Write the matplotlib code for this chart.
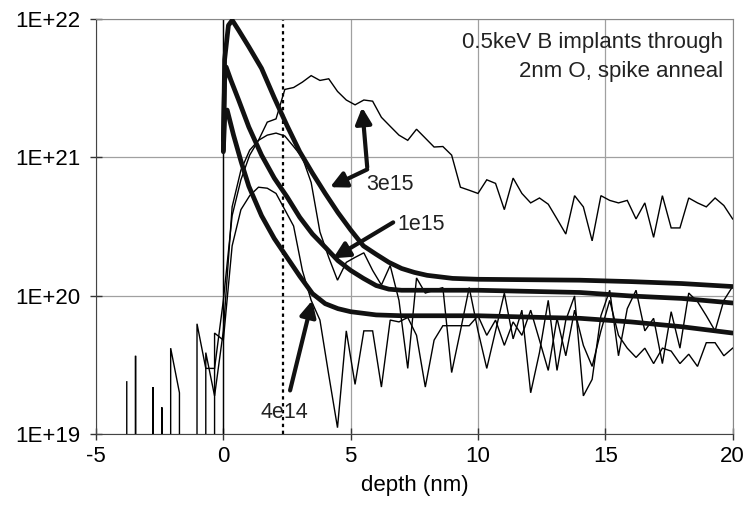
import numpy as np
import matplotlib

matplotlib.use("Agg")
import matplotlib.pyplot as plt
from matplotlib.ticker import FixedLocator, FuncFormatter, NullLocator

plt.rcParams["font.family"] = ["Liberation Sans", "DejaVu Sans"]
plt.rcParams["axes.unicode_minus"] = False

# SIMS profiles: one value per depth step, starting at index -11 (0 = below detection)
DEPTH_STEP = 20 / 58
FIRST_INDEX = -11

sims_3e15 = [
    2.4e19, 0, 0, 2.2e19, 0, 4.2e19, 2.0e19, 0, 6.3e19, 3.0e19,
    3.0e19, 9.3e19, 3.8e20, 6.9e20, 1.04e21, 1.33e21, 1.8e21, 1.9e21, 3.1e21, 3.2e21,
    3.5e21, 3.9e21, 3.6e21, 3.7e21, 3.0e21, 2.6e21, 2.4e21, 2.6e21, 2.55e21, 1.95e21,
    1.68e21, 1.45e21, 1.33e21, 1.6e21, 1.38e21, 1.19e21, 1.2e21, 1.04e21, 6.1e20, 5.8e20,
    5.5e20, 6.9e20, 6.5e20, 4.2e20, 7.1e20, 5.5e20, 4.7e20, 5.1e20, 4.6e20, 3.6e20,
    2.8e20, 5.3e20, 4.4e20, 2.5e20, 5.3e20, 4.9e20, 4.7e20, 4.9e20, 3.6e20, 4.7e20,
    2.65e20, 5.3e20, 3.1e20, 3.1e20, 5.1e20, 4.7e20, 4.4e20, 5.1e20, 4.5e20, 3.6e20,
]
sims_1e15 = [
    0, 3.7e19, 0, 0, 1.57e19, 0, 0, 0, 0, 3.9e19,
    1.9e19, 5.6e19, 4.4e20, 8.1e20, 1.13e21, 1.33e21, 1.45e21, 1.5e21, 1.43e21, 1.2e21,
    1.0e21, 6.6e20, 2.9e20, 1.9e20, 1.3e20, 1.75e20, 1.9e20, 2.05e20, 1.53e20, 1.2e20,
    1.66e20, 9.3e19, 3.0e19, 1.35e20, 1.05e20, 1.1e20, 1.15e20, 2.8e19, 5.6e19, 1.15e20,
    5.6e19, 3.0e19, 5.6e19, 1.05e20, 4.9e19, 7.9e19, 2.0e19, 3.9e19, 9.3e19, 2.9e19,
    6.7e19, 1.0e20, 1.9e19, 2.5e19, 7.2e19, 1.1e20, 3.7e19, 8.1e19, 1.1e20, 5.6e19,
    6.9e19, 3.25e19, 7.7e19, 4.2e19, 1.05e20, 9.1e19, 7.2e19, 5.6e19, 9.3e19, 1.17e20,
]
sims_4e14 = [
    0, 0, 0, 0, 0, 0, 0, 0, 0, 0,
    5.4e19, 4.8e19, 2.3e20, 4.2e20, 5.3e20, 6.1e20, 6.0e20, 5.5e20, 4.2e20, 3.2e20,
    1.53e20, 9.3e19, 6.7e19, 2.7e19, 1.12e19, 5.6e19, 2.3e19, 5.6e19, 5.6e19, 2.2e19,
    6.7e19, 6.5e19, 7.0e19, 5.2e19, 2.2e19, 4.8e19, 6.1e19, 6.1e19, 6.1e19, 6.1e19,
    7.2e19, 5.2e19, 6.7e19, 4.4e19, 6.5e19, 5.2e19, 7.9e19, 4.8e19, 2.9e19, 6.9e19,
    3.7e19, 7.9e19, 4.4e19, 3.1e19, 5.6e19, 9.3e19, 5.2e19, 4.2e19, 3.6e19, 4.2e19,
    3.25e19, 4.2e19, 4.0e19, 3.25e19, 3.8e19, 3.1e19, 4.6e19, 4.6e19, 3.7e19, 4.2e19,
]

# simulated profiles (thick lines)
model_3e15_depth = [0.0, 0.05, 0.2, 0.35, 0.6, 1.0, 1.5, 2.0, 2.5, 3.0, 3.5, 4.0, 4.5, 5.0, 5.5, 6.0, 6.5, 7.0, 7.5, 8.0, 9.0, 10.0, 14.0, 16.0, 18.0, 20.0]
model_3e15_conc = [1.1e21, 5.1e21, 9.0e21, 9.8e21, 8.3e21, 6.3e21, 4.4e21, 2.7e21, 1.7e21, 1.1e21, 7.7e20, 5.5e20, 4.0e20, 3.0e20, 2.3e20, 2.0e20, 1.75e20, 1.58e20, 1.48e20, 1.41e20, 1.34e20, 1.32e20, 1.3e20, 1.27e20, 1.23e20, 1.17e20]
model_1e15_depth = [0.0, 0.05, 0.11, 0.3, 0.6, 1.0, 1.5, 2.0, 2.5, 3.0, 3.5, 4.0, 4.5, 5.0, 5.5, 6.0, 6.5, 7.0, 8.0, 10.0, 14.0, 16.0, 18.0, 20.0]
model_1e15_conc = [1.33e21, 3.6e21, 4.5e21, 3.6e21, 2.6e21, 1.66e21, 1.04e21, 7.1e20, 5.2e20, 3.7e20, 2.8e20, 2.25e20, 1.8e20, 1.53e20, 1.34e20, 1.19e20, 1.12e20, 1.1e20, 1.1e20, 1.1e20, 1.06e20, 1.0e20, 9.6e19, 8.9e19]
model_4e14_depth = [0.0, 0.05, 0.15, 0.4, 0.7, 1.0, 1.5, 2.0, 2.5, 3.0, 3.5, 4.0, 4.5, 5.0, 6.0, 7.0, 10.0, 12.5, 14.0, 16.0, 18.0, 20.0]
model_4e14_conc = [1.13e21, 1.9e21, 2.2e21, 1.45e21, 9.3e20, 6.2e20, 3.8e20, 2.6e20, 1.9e20, 1.39e20, 1.04e20, 8.8e19, 8.1e19, 7.7e19, 7.3e19, 7.2e19, 7.2e19, 7.0e19, 6.9e19, 6.5e19, 6.0e19, 5.4e19]

oxide_edge = 2.33

# dose labels: text anchor, then (tail, head) pairs of the arrows
dose_labels = ["3e15", "1e15", "4e14"]
label_xy = [(5.62, 6.4e20), (6.82, 3.3e20), (2.4, 1.44e19)]
label_ha = ["left", "left", "center"]
label_arrows = [
    [((5.65, 8.5e20), (5.45, 2.3e21)), ((5.65, 8.2e20), (4.19, 6.1e20))],
    [((6.67, 3.4e20), (4.31, 1.87e20))],
    [((2.62, 2.08e19), (3.49, 9.3e19))],
]

x_ticks = [-5, 0, 5, 10, 15, 20]
y_ticks = [1e19, 1e20, 1e21, 1e22]
note = "0.5keV B implants through\n2nm O, spike anneal"


def excel_log_path(depth, conc, floor=1e17):
    # Excel draws zero values on a log axis as drops straight to the bottom
    xs, ys = [], []
    prev_zero = True
    for i, (x, y) in enumerate(zip(depth, conc)):
        if y <= 0:
            if not prev_zero:
                xs += [xs[-1], np.nan]
                ys += [floor, np.nan]
            prev_zero = True
            continue
        if prev_zero and i > 0:
            xs.append(x)
            ys.append(floor)
        xs.append(x)
        ys.append(y)
        prev_zero = False
    return xs, ys


def main():
    fig = plt.figure(figsize=(7.45, 5.09), dpi=100)
    ax = fig.add_axes([0.1289, 0.1464, 0.8545, 0.8163])
    ax.set_yscale("log")

    depth = [(FIRST_INDEX + k) * DEPTH_STEP for k in range(len(sims_3e15))]
    for conc in (sims_3e15, sims_1e15, sims_4e14):
        xs, ys = excel_log_path(depth, conc)
        ax.plot(xs, ys, color="black", lw=1.0, solid_joinstyle="miter", zorder=3)

    models = [(model_3e15_depth, model_3e15_conc), (model_1e15_depth, model_1e15_conc), (model_4e14_depth, model_4e14_conc)]
    for d, c in models:
        ax.plot(d, c, color="#111111", lw=3.4, solid_joinstyle="round", solid_capstyle="round", zorder=4)

    ax.axvline(0, color="black", lw=1.0, zorder=2)
    ax.axvline(oxide_edge, color="black", lw=1.6, ls=(0, (1.5, 1.6)), zorder=2)

    for label, xy, ha, arrows in zip(dose_labels, label_xy, label_ha, label_arrows):
        ax.text(xy[0], xy[1], label, fontsize=15.5, ha=ha, va="center", color="#222222", zorder=6)
        for tail, head in arrows:
            ax.annotate("", xy=head, xytext=tail,
                        arrowprops=dict(arrowstyle="-|>", lw=3.0, color="#111111", mutation_scale=24, shrinkA=0, shrinkB=0),
                        zorder=5)

    ax.text(0.985, 0.968, note, transform=ax.transAxes, ha="right", va="top", fontsize=16,
            linespacing=1.5, multialignment="right", color="#222222")

    ax.set_xlim(-5, 20)
    ax.set_ylim(1e19, 1e22)
    ax.xaxis.set_major_locator(FixedLocator(x_ticks))
    ax.yaxis.set_major_locator(FixedLocator(y_ticks))
    ax.yaxis.set_minor_locator(NullLocator())
    ax.yaxis.set_major_formatter(FuncFormatter(lambda v, _: f"1E+{int(round(np.log10(v)))}"))
    ax.xaxis.set_major_formatter(FuncFormatter(lambda v, _: f"{int(v)}"))
    ax.grid(True, color="#a0a0a0", lw=0.9, zorder=0)
    ax.set_axisbelow(True)
    ax.tick_params(direction="inout", length=8, width=1.0, labelsize=16, color="#333333", pad=4)
    ax.tick_params(axis="y", pad=7)
    for side in ("top", "right"):
        ax.spines[side].set_color("#888888")
    for side in ("left", "bottom"):
        ax.spines[side].set_color("#444444")
    ax.set_xlabel("depth (nm)", fontsize=16, labelpad=6)

    fig.savefig("out.png", dpi=100)
    plt.close(fig)


if __name__ == "__main__":
    main()
